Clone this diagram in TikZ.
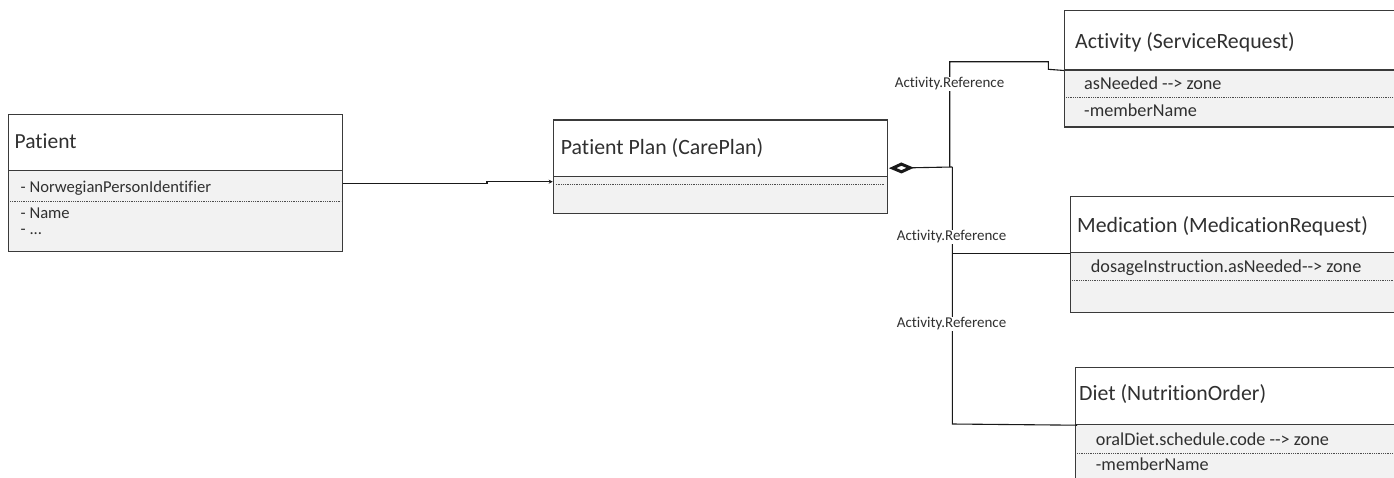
\documentclass[tikz,border=0pt]{standalone}
\usepackage{fontspec}
\setmainfont{Carlito}[Ligatures={TeXOff,CommonOff}]
\usetikzlibrary{arrows.meta,calc}
\definecolor{txt}{HTML}{303030}
\definecolor{bodyfill}{HTML}{F2F2F2}
\definecolor{bord}{HTML}{3A3A3A}
\tikzset{
  hdrbox/.style={draw=bord, line width=1.2pt, fill=white, anchor=north west, inner sep=0pt},
  bodybox/.style={draw=bord, line width=1.2pt, fill=bodyfill, anchor=north west, inner sep=0pt},
  sepline/.style={draw=black!70, line width=0.7pt, dash pattern=on 1pt off 0.8pt},
  ttl/.style={anchor=base west, inner sep=0pt, text=txt, font=\fontsize{21.8}{25}\selectfont},
  attr/.style={anchor=base west, inner sep=0pt, text=txt, font=\fontsize{18.2}{21}\selectfont},
  pattr/.style={anchor=base west, inner sep=0pt, text=txt, font=\fontsize{16.6}{20}\selectfont},
  reflabel/.style={fill=white, inner sep=1pt, text=txt, font=\fontsize{15}{18}\selectfont},
  conn/.style={draw=black!90, line width=1.1pt},
}
\begin{document}
\begin{tikzpicture}[x=1pt,y=-1pt]
\clip (0,0) rectangle (1394,477);
\fill[white] (0,0) rectangle (1394,477);

% Patient
\node[bodybox, minimum width=334pt, minimum height=81pt] (patb) at (8,170) {};
\node[hdrbox, minimum width=334pt, minimum height=56pt] (path) at (8,114) {};
\node[ttl, font=\fontsize{21.5}{25}\selectfont] (patt) at (14.5,148.3) {Patient};
\draw[sepline] ($(patb.north west)+(2,31.7)$) -- ($(patb.north east)+(-2,31.7)$);
\node[pattr] (pata1) at (20.5,192.5) {- NorwegianPersonIdentifier};
\node[pattr] (pata2) at (20.5,218.5) {- Name};
\node[pattr] (pata3) at (20.5,234) {- ...};

% CarePlan
\node[bodybox, minimum width=334pt, minimum height=37pt] (cpb) at (552.7,176) {};
\node[hdrbox, minimum width=334pt, minimum height=56.7pt] (cph) at (552.7,119.3) {};
\node[ttl] (cpt) at (560.7,154.3) {Patient Plan (CarePlan)};
\draw[sepline] ($(cpb.north west)+(3,8)$) -- ($(cpb.north east)+(-3,8)$);

% Activity
\node[bodybox, minimum width=340pt, minimum height=57pt] (actb) at (1064,69.3) {};
\node[hdrbox, minimum width=340pt, minimum height=59.3pt] (acth) at (1064,10) {};
\node[ttl] (actt) at (1075,48.3) {Activity (ServiceRequest)};
\node[attr] (acta1) at (1084,89.3) {asNeeded --> zone};
\draw[sepline] ($(actb.north west)+(2,28)$) -- ($(actb.north east)+(0,28)$);
\node[attr] (acta2) at (1084,116) {-memberName};

% Medication
\node[bodybox, minimum width=340pt, minimum height=59.7pt] (medb) at (1070,252) {};
\node[hdrbox, minimum width=340pt, minimum height=56.5pt] (medh) at (1070,195.5) {};
\node[ttl] (medt) at (1077,232.3) {Medication (MedicationRequest)};
\node[attr] (meda1) at (1090.7,272.7) {dosageInstruction.asNeeded--> zone};
\draw[sepline] ($(medb.north west)+(2,28)$) -- ($(medb.north east)+(0,28)$);

% Diet
\node[bodybox, minimum width=340pt, minimum height=70pt] (dietb) at (1075,424) {};
\node[hdrbox, minimum width=340pt, minimum height=57pt] (dieth) at (1075,367) {};
\node[ttl] (dietT) at (1079,400) {Diet (NutritionOrder)};
\node[attr] (dieta1) at (1095.7,445) {oralDiet.schedule.code --> zone};
\draw[sepline] ($(dietb.north west)+(2,29)$) -- ($(dietb.north east)+(0,29)$);
\node[attr] (dieta2) at (1095.7,470) {-memberName};

% connectors
\coordinate (pc0) at ($(patb.north east)+(0,13.3)$);
\coordinate (pc1) at (487,183.3);
\coordinate (pc2) at (487,181.7);
\draw[conn, -{Stealth[length=4pt,width=4pt]}] (pc0) -- (pc1) -- (pc2) -- (pc2 -| cph.west);

\coordinate (cpd) at ([yshift=9pt]cph.south east);
\coordinate (jM) at (952.3,167);
\coordinate (jA) at (949.7,167);
\draw[conn, {Diamond[open, fill=white, length=25pt, width=11pt, line width=3pt]}-] ([xshift=1pt]cpd) -- (jM);
\draw[conn] (jA) -- (949.7,61.7) -- (1048.3,61.7) -- (1048.3,69.3) -- (acth.south west);
\draw[conn] (jM) -- (952.3,424) -- ($(dieth.south west)+(2,0)$);
\coordinate (jMed) at (952.3,253.3);
\draw[conn] (jMed) -- (jMed -| medb.west);

\node[reflabel] (lab1) at (949.5,84) {Activity.Reference};
\node[reflabel] (lab2) at (951.5,237) {Activity.Reference};
\node[reflabel] (lab3) at (951.5,324) {Activity.Reference};
\end{tikzpicture}
\end{document}
